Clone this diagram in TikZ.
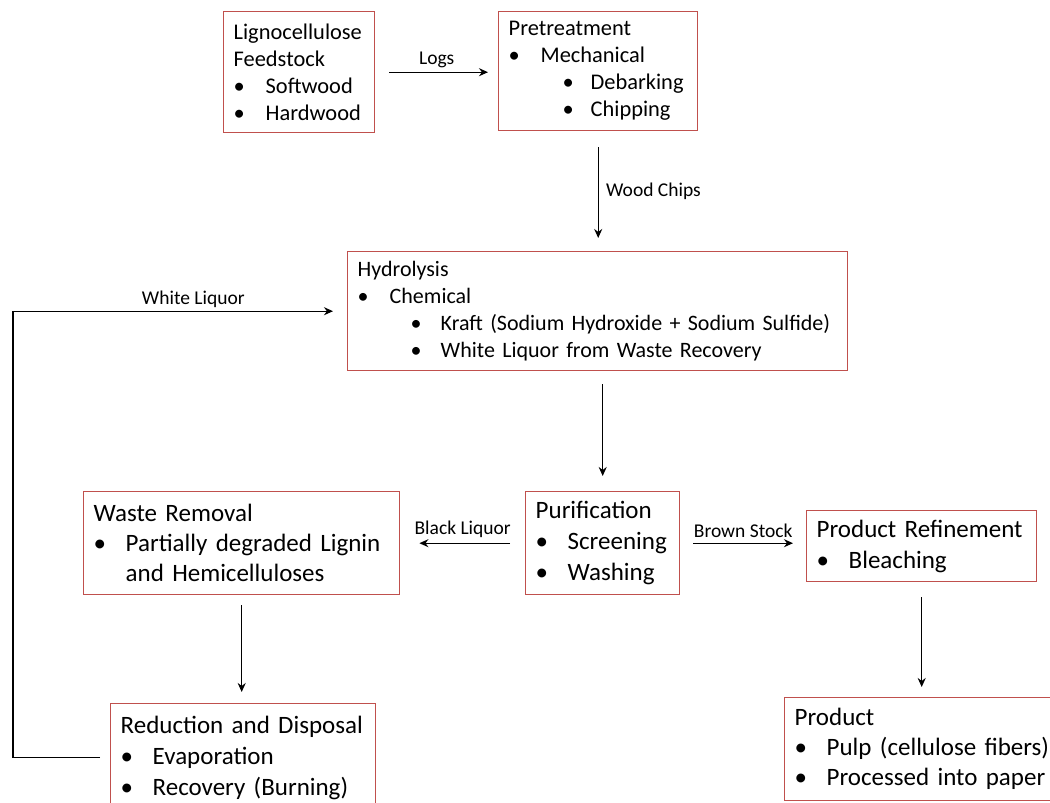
\documentclass[tikz,border=0pt]{standalone}
\usepackage{fontspec}
\setmainfont{Carlito}
\usetikzlibrary{arrows.meta, positioning}

\definecolor{boxred}{HTML}{C0504D}
\newcommand{\fs}[2]{\fontsize{#1}{#2}\selectfont}
\newcommand{\bl}[2][32pt]{\makebox[#1][l]{\textbullet}#2}

\begin{document}
\begin{tikzpicture}[x=1pt, y=-1pt,
	box/.style={draw=boxred, line width=1.4pt, anchor=north west, align=left, inner xsep=10pt, inner ysep=5pt},
	flow/.style={-{Stealth[length=9pt, width=8pt]}, line width=1.3pt},
	lbl/.style={font=\fs{19.5}{22}}]

	\useasboundingbox (0,0) rectangle (1050,803);

	% process boxes
	\node[box, text width=131pt, minimum height=121pt, font=\fs{22.4}{27}] (feed) at (223,11)
		{Lignocellulose\\Feedstock\\\bl{Softwood}\\\bl{Hardwood}};
	\node[box, text width=179pt, minimum height=119pt, font=\fs{22.4}{27}] (pre) at (498,11)
		{Pretreatment\\\bl{Mechanical}\\\hspace*{54pt}\bl[28pt]{Debarking}\\\hspace*{54pt}\bl[28pt]{Chipping}};
	\node[box, text width=480pt, minimum height=119pt, font=\fs{22}{27}] (hyd) at (347,251)
		{Hydrolysis\\\bl{Chemical}\\\hspace*{53pt}\bl[30pt]{Kraft (Sodium Hydroxide + Sodium Sulfide)}\\\hspace*{53pt}\bl[30pt]{White Liquor from Waste Recovery}};
	\node[box, text width=134pt, minimum height=103pt, font=\fs{25}{31}] (pur) at (525,491)
		{Purification\\\bl{Screening}\\\bl{Washing}};
	\node[box, text width=296pt, minimum height=103pt, font=\fs{25}{30}] (waste) at (83,491)
		{Waste Removal\\\bl{Partially degraded Lignin}\\\hspace*{32pt}and Hemicelluloses};
	\node[box, text width=210pt, minimum height=71pt, font=\fs{25}{31}] (refine) at (806,510)
		{Product Refinement\\\bl{Bleaching}};
	\node[box, text width=245pt, minimum height=108pt, font=\fs{25}{31}] (reduce) at (110,703)
		{Reduction and Disposal\\\bl{Evaporation}\\\bl{Recovery (Burning)}};
	\node[box, text width=268pt, minimum height=103pt, font=\fs{25}{30}] (prod) at (784,697)
		{Product\\\bl{Pulp (cellulose fibers)}\\\bl{Processed into paper}};

	\coordinate (rail) at (13,0);

	% connectors
	\begin{scope}[flow]
		\draw[shorten <=14pt, shorten >=10pt] (feed.east) -- (feed.east -| pre.west)
			node[lbl, above, midway] {Logs};
		\draw[shorten <=16pt, shorten >=13pt] (pre.south) -- (pre.south |- hyd.north)
			node[lbl, right=4pt, midway] {Wood Chips};
		\draw[shorten <=13pt, shorten >=15pt] (pur.north |- hyd.south) -- (pur.north);
		\draw[shorten <=15pt, shorten >=19pt] (pur.west) -- (pur.west -| waste.east)
			node[lbl, above=2pt, midway] {Black Liquor};
		\draw[shorten <=13pt, shorten >=13pt] (pur.east) -- (pur.east -| refine.west)
			node[lbl, above=2pt, midway] {Brown Stock};
		\draw[shorten <=10pt, shorten >=14pt] (reduce.west) -- (reduce.west -| rail) |- (hyd.west)
			node[lbl, above, pos=0.77] {White Liquor};
		\draw[shorten <=10pt, shorten >=11pt] (waste.south) -- (waste.south |- reduce.north);
		\draw[shorten <=15pt, shorten >=10pt] (refine.south) -- (refine.south |- prod.north);
	\end{scope}
\end{tikzpicture}
\end{document}
